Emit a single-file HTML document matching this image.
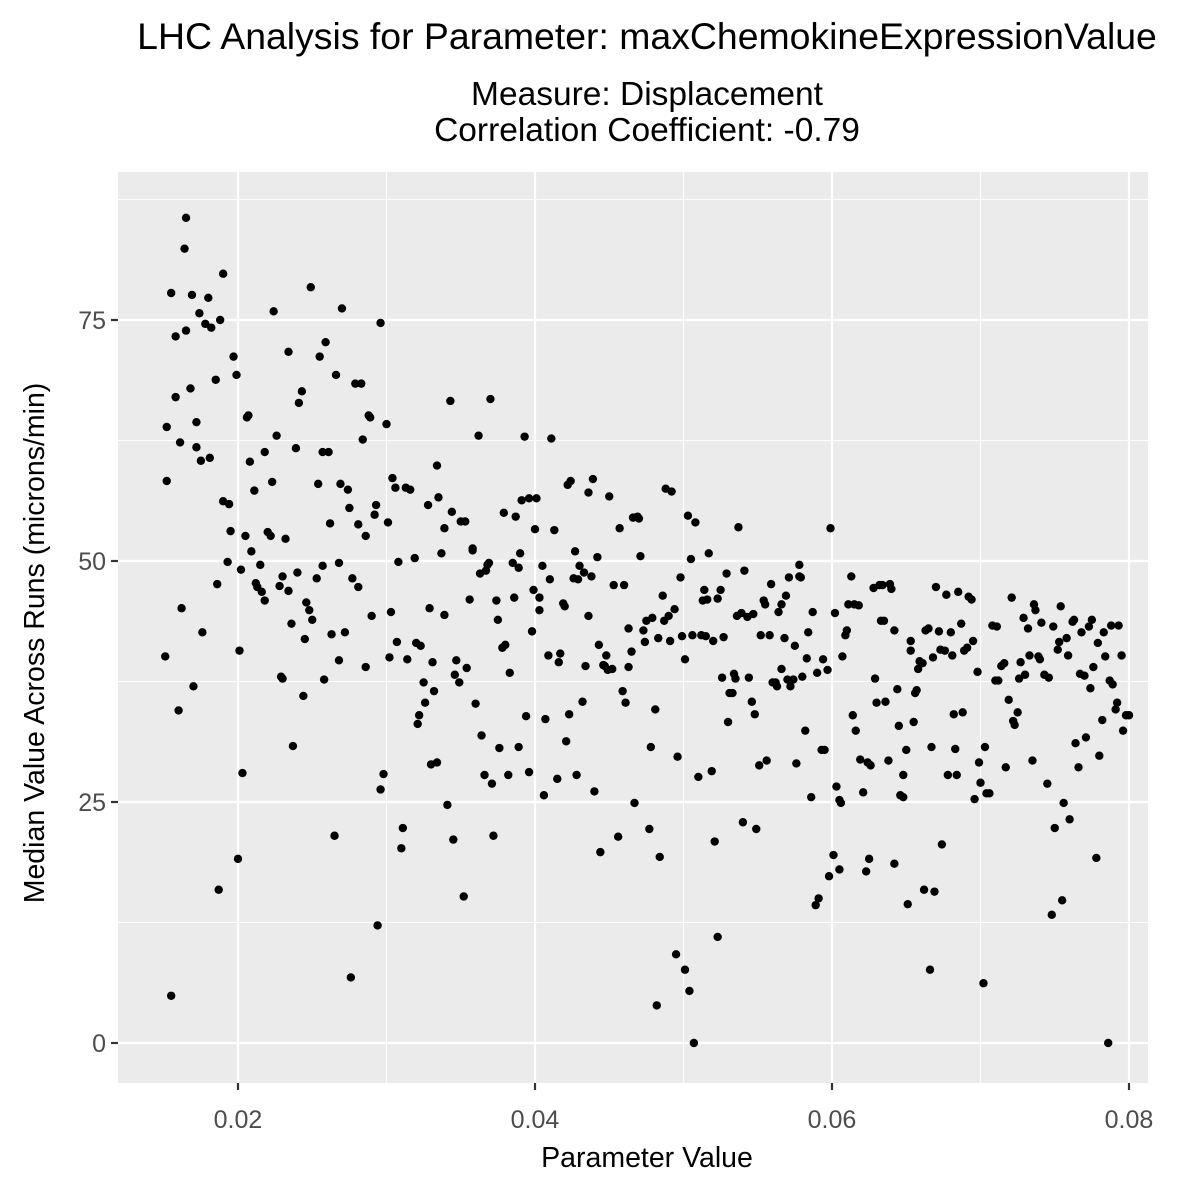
<!DOCTYPE html>
<html>
<head>
<meta charset="utf-8">
<style>
html,body{margin:0;padding:0;background:#fff;}
svg{display:block;font-family:"Liberation Sans",Arial,sans-serif;}
</style>
</head>
<body>
<svg id="chart" width="1200" height="1200" viewBox="0 0 1200 1200" xmlns="http://www.w3.org/2000/svg">
  <rect x="0" y="0" width="1200" height="1200" fill="#fff"/>
  <text x="647" y="49" font-size="37.4" text-anchor="middle" fill="#000">LHC Analysis for Parameter: maxChemokineExpressionValue</text>
  <text x="647" y="105" font-size="33.5" text-anchor="middle" fill="#000">Measure: Displacement</text>
  <text x="647" y="141" font-size="33.5" text-anchor="middle" fill="#000">Correlation Coefficient: -0.79</text>
  <rect x="118" y="172" width="1030" height="911" fill="#ebebeb"/>
  <g id="grid"></g>
  <g id="points"></g>
  <g id="axes"></g>
  <text x="647" y="1167" font-size="28.5" text-anchor="middle" fill="#000">Parameter Value</text>
  <text transform="translate(44,643) rotate(-90)" font-size="28.5" text-anchor="middle" fill="#000">Median Value Across Runs (microns/min)</text>
</svg>
<script>
const xTicks = [0.02, 0.04, 0.06, 0.08];
const xTickLabels = ["0.02", "0.04", "0.06", "0.08"];
const yTicks = [0, 25, 50, 75];
const yTickLabels = ["0", "25", "50", "75"];
const xVals = [0.0151,0.0155,0.0152,0.0152,0.0155,0.0158,0.0158,0.0160,0.0161,0.0162,0.0164,0.0165,0.0165,0.0168,0.0169,0.0170,0.0172,0.0172,0.0174,0.0175,0.0176,0.0178,0.0180,0.0181,0.0182,0.0185,0.0186,0.0187,0.0188,0.0190,0.0190,0.0193,0.0194,0.0195,0.0197,0.0199,0.0200,0.0201,0.0202,0.0203,0.0205,0.0206,0.0207,0.0208,0.0209,0.0211,0.0212,0.0213,0.0215,0.0216,0.0218,0.0218,0.0220,0.0222,0.0223,0.0224,0.0226,0.0228,0.0229,0.0230,0.0230,0.0232,0.0234,0.0234,0.0236,0.0237,0.0239,0.0240,0.0241,0.0243,0.0244,0.0245,0.0246,0.0248,0.0249,0.0250,0.0253,0.0254,0.0255,0.0257,0.0257,0.0258,0.0259,0.0261,0.0262,0.0263,0.0265,0.0266,0.0268,0.0268,0.0269,0.0270,0.0272,0.0274,0.0275,0.0276,0.0277,0.0279,0.0281,0.0281,0.0283,0.0284,0.0286,0.0286,0.0288,0.0289,0.0290,0.0292,0.0293,0.0294,0.0296,0.0296,0.0298,0.0300,0.0301,0.0302,0.0303,0.0304,0.0306,0.0307,0.0308,0.0310,0.0311,0.0313,0.0314,0.0316,0.0319,0.0320,0.0321,0.0322,0.0323,0.0325,0.0326,0.0328,0.0329,0.0330,0.0331,0.0332,0.0334,0.0334,0.0335,0.0337,0.0339,0.0339,0.0341,0.0343,0.0344,0.0345,0.0346,0.0347,0.0349,0.0350,0.0352,0.0353,0.0354,0.0356,0.0358,0.0358,0.0360,0.0362,0.0363,0.0364,0.0366,0.0367,0.0368,0.0369,0.0370,0.0371,0.0372,0.0374,0.0375,0.0376,0.0378,0.0379,0.0380,0.0382,0.0383,0.0385,0.0386,0.0387,0.0389,0.0389,0.0390,0.0391,0.0393,0.0394,0.0396,0.0396,0.0398,0.0399,0.0400,0.0401,0.0403,0.0403,0.0405,0.0406,0.0407,0.0409,0.0410,0.0411,0.0413,0.0415,0.0416,0.0417,0.0419,0.0420,0.0421,0.0422,0.0423,0.0424,0.0426,0.0427,0.0428,0.0429,0.0430,0.0432,0.0433,0.0434,0.0436,0.0436,0.0438,0.0439,0.0440,0.0442,0.0443,0.0444,0.0446,0.0447,0.0448,0.0449,0.0450,0.0452,0.0453,0.0456,0.0457,0.0459,0.0460,0.0461,0.0463,0.0463,0.0465,0.0466,0.0467,0.0469,0.0470,0.0471,0.0473,0.0474,0.0475,0.0477,0.0478,0.0479,0.0481,0.0482,0.0483,0.0484,0.0486,0.0487,0.0488,0.0490,0.0491,0.0492,0.0494,0.0495,0.0496,0.0498,0.0499,0.0501,0.0501,0.0503,0.0504,0.0505,0.0506,0.0507,0.0508,0.0510,0.0512,0.0513,0.0514,0.0515,0.0516,0.0517,0.0519,0.0520,0.0521,0.0523,0.0523,0.0525,0.0526,0.0527,0.0529,0.0530,0.0531,0.0533,0.0534,0.0535,0.0536,0.0537,0.0539,0.0540,0.0541,0.0543,0.0544,0.0546,0.0547,0.0548,0.0549,0.0551,0.0552,0.0554,0.0555,0.0556,0.0558,0.0559,0.0560,0.0562,0.0563,0.0564,0.0566,0.0566,0.0568,0.0569,0.0570,0.0571,0.0572,0.0574,0.0575,0.0576,0.0578,0.0578,0.0579,0.0580,0.0582,0.0583,0.0584,0.0586,0.0587,0.0589,0.0590,0.0591,0.0593,0.0594,0.0595,0.0597,0.0598,0.0599,0.0601,0.0602,0.0603,0.0605,0.0605,0.0606,0.0607,0.0609,0.0610,0.0611,0.0613,0.0614,0.0615,0.0616,0.0618,0.0619,0.0621,0.0623,0.0624,0.0625,0.0626,0.0628,0.0629,0.0630,0.0632,0.0633,0.0634,0.0635,0.0636,0.0638,0.0639,0.0640,0.0642,0.0642,0.0644,0.0645,0.0646,0.0648,0.0648,0.0650,0.0651,0.0653,0.0653,0.0655,0.0656,0.0657,0.0658,0.0659,0.0661,0.0662,0.0663,0.0665,0.0666,0.0667,0.0668,0.0669,0.0670,0.0672,0.0673,0.0674,0.0676,0.0677,0.0678,0.0680,0.0681,0.0682,0.0683,0.0684,0.0685,0.0687,0.0688,0.0689,0.0691,0.0692,0.0694,0.0695,0.0696,0.0698,0.0699,0.0700,0.0702,0.0703,0.0704,0.0706,0.0708,0.0710,0.0711,0.0712,0.0714,0.0716,0.0717,0.0719,0.0721,0.0722,0.0723,0.0725,0.0726,0.0727,0.0729,0.0730,0.0732,0.0733,0.0735,0.0736,0.0737,0.0739,0.0740,0.0741,0.0743,0.0745,0.0746,0.0748,0.0749,0.0750,0.0752,0.0753,0.0754,0.0755,0.0756,0.0758,0.0759,0.0760,0.0762,0.0763,0.0764,0.0766,0.0767,0.0768,0.0770,0.0771,0.0773,0.0774,0.0775,0.0776,0.0778,0.0779,0.0780,0.0782,0.0783,0.0784,0.0786,0.0787,0.0788,0.0789,0.0791,0.0792,0.0793,0.0795,0.0796,0.0798,0.0800];
const yVals = [40.1,4.9,58.3,63.9,77.8,73.3,67.0,34.5,62.3,45.1,82.4,85.6,73.9,67.9,77.6,37.0,64.4,61.8,75.7,60.4,42.6,74.6,77.3,60.7,74.2,68.8,47.6,15.9,75.0,79.8,56.2,49.9,55.9,53.1,71.2,69.3,19.1,40.7,49.1,28.0,52.6,64.9,65.1,60.3,51.0,57.3,47.7,47.3,49.6,46.8,45.9,61.3,53.0,52.6,58.2,75.9,63.0,47.4,38.0,48.4,37.8,52.3,71.7,46.9,43.5,30.8,61.7,48.8,66.4,67.6,36.0,41.9,45.7,44.9,78.4,43.9,48.2,58.0,71.2,61.3,49.5,37.7,72.7,61.3,53.9,42.4,21.5,69.3,49.8,39.7,58.0,76.2,42.6,57.4,55.5,6.8,48.2,68.4,53.8,47.3,68.4,62.6,39.0,52.6,65.1,64.9,44.3,54.8,55.8,12.2,74.7,26.3,27.9,64.2,54.0,40.0,44.7,58.6,57.6,41.6,49.9,20.2,22.3,57.6,39.8,57.4,50.3,41.5,33.1,34.0,41.2,37.4,35.3,55.8,45.1,28.9,39.5,36.5,59.9,29.1,56.6,50.8,53.4,44.4,24.7,66.6,55.1,21.1,38.2,39.7,37.4,54.1,15.2,54.1,38.9,46.0,51.3,51.1,35.2,63.0,48.7,31.9,27.8,49.0,49.6,49.8,66.8,26.9,21.5,45.9,43.9,30.6,41.0,55.0,41.3,27.8,38.4,49.8,46.2,54.6,30.7,49.3,50.8,56.3,62.9,33.9,28.1,56.5,42.7,47.0,53.3,56.5,46.2,44.9,49.5,25.7,33.6,40.2,48.1,62.7,53.2,27.4,39.5,40.4,45.6,45.3,31.3,57.9,34.1,58.3,48.2,51.0,27.8,48.1,49.5,35.4,48.8,39.1,57.1,44.3,48.4,58.5,26.1,50.4,41.3,19.8,39.2,39.1,40.2,38.7,56.7,38.8,47.5,21.4,53.4,36.5,47.5,35.3,39.0,43.0,40.6,54.5,24.9,54.6,54.4,50.5,42.8,41.6,43.8,22.2,30.7,44.1,34.6,3.9,42.0,19.3,46.4,43.8,57.5,44.3,41.7,57.2,45.0,9.2,29.7,48.3,42.2,39.8,7.6,54.7,5.4,50.2,42.3,0,54.0,27.6,42.3,45.9,47.0,42.2,46.0,50.8,28.2,41.7,20.9,11.0,46.1,47.0,37.9,42.1,48.7,33.3,36.3,36.3,38.3,37.8,44.3,53.5,44.6,22.9,49.0,44.2,37.9,35.4,44.5,34.1,22.2,28.8,42.3,45.9,45.5,29.3,42.3,47.6,37.4,37.4,37.0,44.7,45.5,38.8,42.0,46.4,37.7,48.3,37.0,37.7,41.2,29.0,48.4,49.6,48.3,38.0,32.4,39.9,42.6,25.5,44.7,14.3,38.4,15.0,30.4,39.8,30.4,38.7,17.3,53.4,19.5,44.6,26.6,25.2,18.0,24.9,40.1,42.3,42.8,45.5,48.4,34.0,45.5,32.4,45.4,29.4,26.0,17.8,29.1,19.1,28.8,47.2,37.8,35.3,47.5,43.8,47.5,43.8,35.4,29.3,47.6,47.1,42.8,18.6,36.7,32.9,25.7,27.8,25.5,30.4,14.4,40.7,41.7,33.3,36.3,36.6,38.8,39.6,39.4,15.9,42.8,43.0,7.6,30.7,40.0,15.7,47.3,42.7,40.8,20.6,40.7,46.5,27.8,42.6,40.2,34.1,30.5,27.8,46.8,43.5,34.3,40.7,41.0,46.3,46.0,41.7,25.3,38.5,29.1,27.0,6.2,30.7,25.9,25.9,43.3,37.6,43.2,37.6,39.1,39.4,28.6,35.6,46.2,33.4,33.0,34.3,37.8,39.5,44.1,38.2,43.0,40.2,29.3,45.5,44.9,40.1,39.8,43.6,38.2,26.9,37.9,13.3,43.2,22.3,40.8,41.6,45.3,14.8,24.9,42.0,40.2,23.2,43.7,43.9,31.1,28.6,38.3,42.6,38.1,31.7,43.2,36.8,43.9,39.0,19.2,41.5,29.8,33.5,42.6,40.1,0,37.6,43.3,37.2,34.6,35.3,43.3,40.2,32.4,34.0,34.0];

const NS = "http://www.w3.org/2000/svg";
const panel = {left:118, right:1148, top:172, bottom:1083};
const xScale = v => 238 + (v - 0.02) / 0.02 * 297;
const yScale = v => 1043 - v / 25 * 241;

function mk(tag, attrs) {
  const el = document.createElementNS(NS, tag);
  for (const k in attrs) el.setAttribute(k, attrs[k]);
  return el;
}
const grid = document.getElementById('grid');
const axes = document.getElementById('axes');
const pts = document.getElementById('points');

for (let i = 0; i < xTicks.length + 1; i++) {
  const v = xTicks[0] - 0.01 + i * 0.02;
  const x = xScale(v);
  if (x < panel.left || x > panel.right) continue;
  const l = mk('line', {x1:x, x2:x, y1:panel.top, y2:panel.bottom, stroke:'#fff', 'stroke-width':1.1});
  
  
  grid.appendChild(l);
}
for (let i = 0; i < yTicks.length + 1; i++) {
  const v = yTicks[0] - 12.5 + i * 25;
  const y = yScale(v);
  if (y < panel.top || y > panel.bottom) continue;
  const l = mk('line', {x1:panel.left, x2:panel.right, y1:y, y2:y, stroke:'#fff', 'stroke-width':1.1});
  
  
  grid.appendChild(l);
}
xTicks.forEach((v, i) => {
  const x = xScale(v);
  const l = mk('line', {x1:x, x2:x, y1:panel.top, y2:panel.bottom, stroke:'#fff', 'stroke-width':2.2});
  
  
  grid.appendChild(l);
  const t = mk('line', {x1:x, x2:x, y1:panel.bottom, y2:panel.bottom + 7, stroke:'#333', 'stroke-width':2.2});
  
  
  axes.appendChild(t);
  const tx = mk('text', {x:x, y:1128, 'font-size':25, 'text-anchor':'middle', fill:'#4d4d4d'});
  
  
  tx.textContent = xTickLabels[i];
  axes.appendChild(tx);
});
yTicks.forEach((v, i) => {
  const y = yScale(v);
  const l = mk('line', {x1:panel.left, x2:panel.right, y1:y, y2:y, stroke:'#fff', 'stroke-width':2.2});
  
  
  grid.appendChild(l);
  const t = mk('line', {x1:panel.left - 7, x2:panel.left, y1:y, y2:y, stroke:'#333', 'stroke-width':2.2});
  
  
  axes.appendChild(t);
  const tx = mk('text', {x:panel.left - 12, y:y + 9, 'font-size':25, 'text-anchor':'end', fill:'#4d4d4d'});
  
  
  tx.textContent = yTickLabels[i];
  axes.appendChild(tx);
});
for (let i = 0; i < xVals.length; i++) {
  const c = mk('circle', {cx:xScale(xVals[i]), cy:yScale(yVals[i]), r:4.2, fill:'#000'});
  
  
  pts.appendChild(c);
}
</script>
</body>
</html>
